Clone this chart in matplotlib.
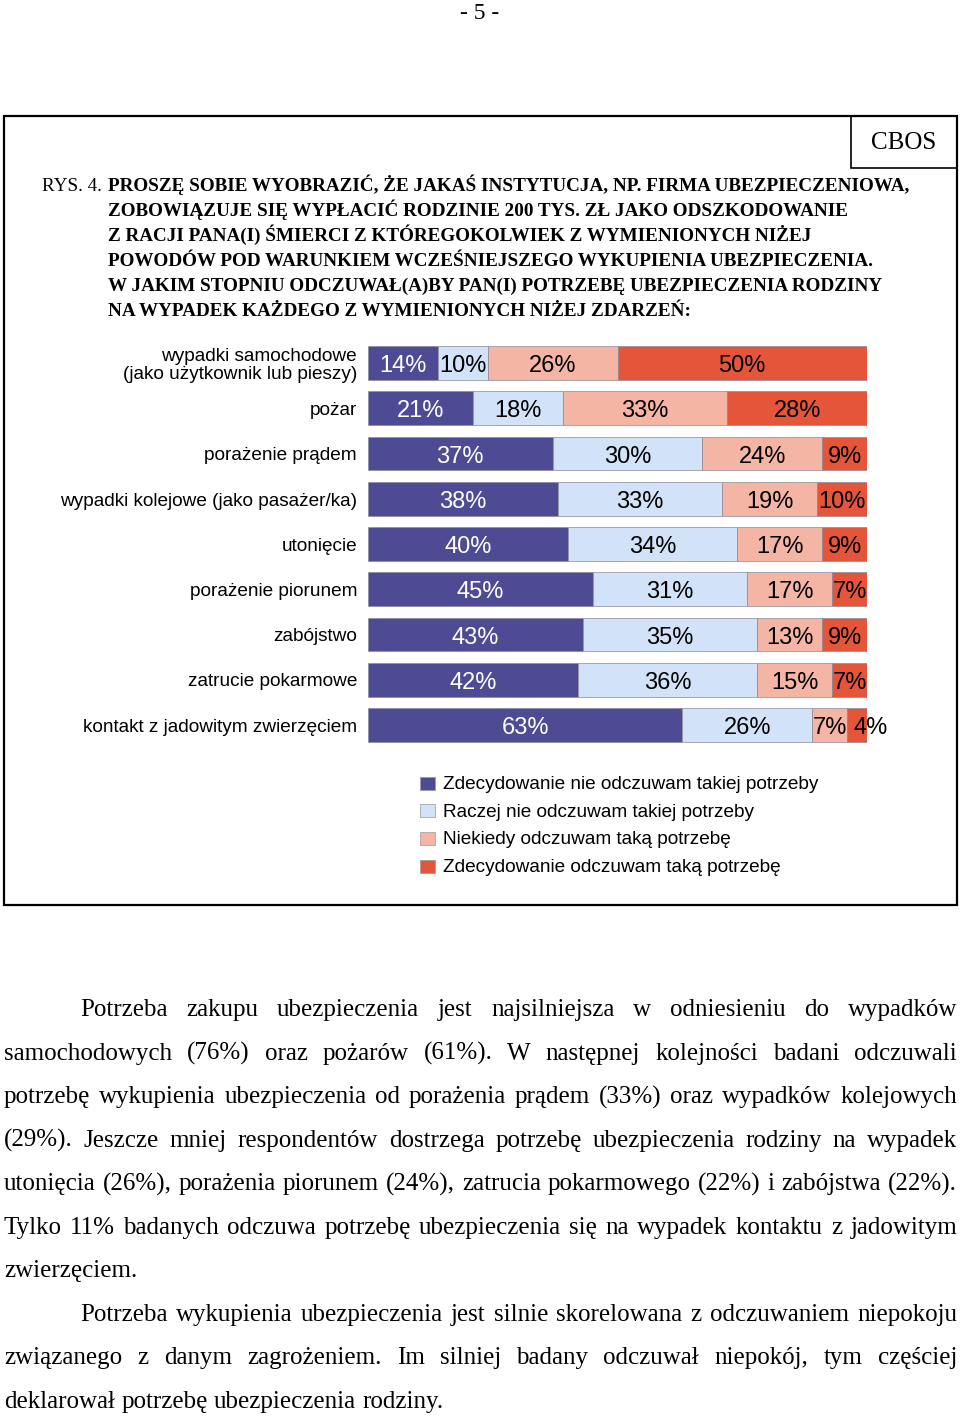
import matplotlib
matplotlib.use("Agg")
import matplotlib.pyplot as plt
from matplotlib.patches import Rectangle

# ── data ─────────────────────────────────────────────────────────────────────
categories = [
    "wypadki samochodowe\n(jako użytkownik lub pieszy)",
    "pożar",
    "porażenie prądem",
    "wypadki kolejowe (jako pasażer/ka)",
    "utonięcie",
    "porażenie piorunem",
    "zabójstwo",
    "zatrucie pokarmowe",
    "kontakt z jadowitym zwierzęciem",
]
zdecydowanie_nie = [14, 21, 37, 38, 40, 45, 43, 42, 63]
raczej_nie       = [10, 18, 30, 33, 34, 31, 35, 36, 26]
niekiedy         = [26, 33, 24, 19, 17, 17, 13, 15, 7]
zdecydowanie_tak = [50, 28, 9, 10, 9, 7, 9, 7, 4]

series_labels = [
    "Zdecydowanie nie odczuwam takiej potrzeby",
    "Raczej nie odczuwam takiej potrzeby",
    "Niekiedy odczuwam taką potrzebę",
    "Zdecydowanie odczuwam taką potrzebę",
]
COLORS = ["#4E4B95", "#D2E2F8", "#F4B5A5", "#E4553A"]
TEXT_COLORS = ["white", "black", "black", "black"]

title_head = "RYS. 4."
title_lines = [
    "PROSZĘ SOBIE WYOBRAZIĆ, ŻE JAKAŚ INSTYTUCJA, NP. FIRMA UBEZPIECZENIOWA,",
    "ZOBOWIĄZUJE SIĘ WYPŁACIĆ RODZINIE 200 TYS. ZŁ JAKO ODSZKODOWANIE",
    "Z RACJI PANA(I) ŚMIERCI Z KTÓREGOKOLWIEK Z WYMIENIONYCH NIŻEJ",
    "POWODÓW POD WARUNKIEM WCZEŚNIEJSZEGO WYKUPIENIA UBEZPIECZENIA.",
    "W JAKIM STOPNIU ODCZUWAŁ(A)BY PAN(I) POTRZEBĘ UBEZPIECZENIA RODZINY",
    "NA WYPADEK KAŻDEGO Z WYMIENIONYCH NIŻEJ ZDARZEŃ:",
]

# (text, indent, justified)
body_lines = [
    ("Potrzeba zakupu ubezpieczenia jest najsilniejsza w odniesieniu do wypadków", True, True),
    ("samochodowych (76%) oraz pożarów (61%). W następnej kolejności badani odczuwali", False, True),
    ("potrzebę wykupienia ubezpieczenia od porażenia prądem (33%) oraz wypadków kolejowych", False, True),
    ("(29%). Jeszcze mniej respondentów dostrzega potrzebę ubezpieczenia rodziny na wypadek", False, True),
    ("utonięcia (26%), porażenia piorunem (24%), zatrucia pokarmowego (22%) i zabójstwa (22%).", False, True),
    ("Tylko 11% badanych odczuwa potrzebę ubezpieczenia się na wypadek kontaktu z jadowitym", False, True),
    ("zwierzęciem.", False, False),
    ("Potrzeba wykupienia ubezpieczenia jest silnie skorelowana z odczuwaniem niepokoju", True, True),
    ("związanego z danym zagrożeniem. Im silniej badany odczuwał niepokój, tym częściej", False, True),
    ("deklarował potrzebę ubezpieczenia rodziny.", False, False),
]

W, H = 960, 1416
SERIF = "Liberation Serif"
SANS = "Liberation Sans"
BODY_FS = 18


def fx(x):
    return x / W


def fy(y):
    return 1 - y / H


fig = plt.figure(figsize=(W / 100, H / 100), dpi=100)

# page number
fig.text(fx(480), fy(19), "- 5 -", family=SERIF, fontsize=17, ha="center", va="baseline")

# frame + CBOS box
fig.add_artist(Rectangle((fx(4), fy(905)), 953 / W, 789 / H, transform=fig.transFigure,
                         fill=False, lw=1.6, ec="black"))
fig.add_artist(Rectangle((fx(851), fy(168)), 106 / W, 52 / H, transform=fig.transFigure,
                         fill=False, lw=1.2, ec="black"))
fig.text(fx(904), fy(149), "CBOS", family=SERIF, fontsize=18, ha="center", va="baseline")

# title
fig.text(fx(42), fy(191), title_head, family=SERIF, fontsize=13.8, ha="left", va="baseline")
for i, line in enumerate(title_lines):
    fig.text(fx(108), fy(191 + 25 * i), line, family=SERIF, fontsize=13.75,
             fontweight="bold", ha="left", va="baseline")

# ── stacked bars ─────────────────────────────────────────────────────────────
ax = fig.add_axes([fx(368), fy(747.6), 499 / W, 407.2 / H])
ax.set_xlim(0, 100)
ax.set_ylim(len(categories) - 0.5, -0.5)
ax.axis("off")

series = [zdecydowanie_nie, raczej_nie, niekiedy, zdecydowanie_tak]
ypos = list(range(len(categories)))
left = [0] * len(categories)
for vals, col, tcol in zip(series, COLORS, TEXT_COLORS):
    ax.barh(ypos, vals, left=left, height=0.75, color=col, edgecolor="#8a8a9a", linewidth=0.5)
    for y, l, v in zip(ypos, left, vals):
        if v < 5:
            # too narrow: start the label inside the segment and let it run out
            ax.text(l + v * 0.3, y + 0.07, f"{v}%", ha="left", va="center", fontsize=17,
                    family=SANS, color=tcol)
        else:
            ax.text(l + v / 2, y + 0.07, f"{v}%", ha="center", va="center", fontsize=17,
                    family=SANS, color=tcol)
    left = [a + b for a, b in zip(left, vals)]

for y, cat in zip(ypos, categories):
    ax.text(-2.2, y + 0.05, cat, ha="right", va="center", multialignment="right",
            fontsize=13.7, family=SANS, linespacing=1.1)

# legend
for i, (lab, col) in enumerate(zip(series_labels, COLORS)):
    yc = 783 + 27.7 * i
    fig.add_artist(Rectangle((fx(420), fy(yc + 6.5)), 15 / W, 13 / H, transform=fig.transFigure,
                             fc=col, ec="#9a9a9a", lw=0.5))
    fig.text(fx(443), fy(yc + 1.5), lab, family=SANS, fontsize=13.7, ha="left", va="center")

# ── body text (justified) ────────────────────────────────────────────────────
renderer = fig.canvas.get_renderer()
LEFT, RIGHT, INDENT = 4, 957, 80
space_w = fig.text(0, 0, "a a", family=SERIF, fontsize=BODY_FS).get_window_extent(renderer).width \
    - 2 * fig.text(0, 0, "a", family=SERIF, fontsize=BODY_FS).get_window_extent(renderer).width
for t in fig.texts[-2:]:
    t.remove()

for i, (line, indent, justify) in enumerate(body_lines):
    base = 1016 + 43.55 * i
    x0 = INDENT if indent else LEFT
    words = line.split(" ")
    texts = [fig.text(0, fy(base), w, family=SERIF, fontsize=BODY_FS, ha="left", va="baseline")
             for w in words]
    widths = [t.get_window_extent(renderer).width for t in texts]
    if justify and len(words) > 1:
        gap = (RIGHT - x0 - sum(widths)) / (len(words) - 1)
    else:
        gap = space_w
    x = x0
    for t, w in zip(texts, widths):
        t.set_x(fx(x))
        x += w + gap

fig.savefig("out.png", dpi=100)
